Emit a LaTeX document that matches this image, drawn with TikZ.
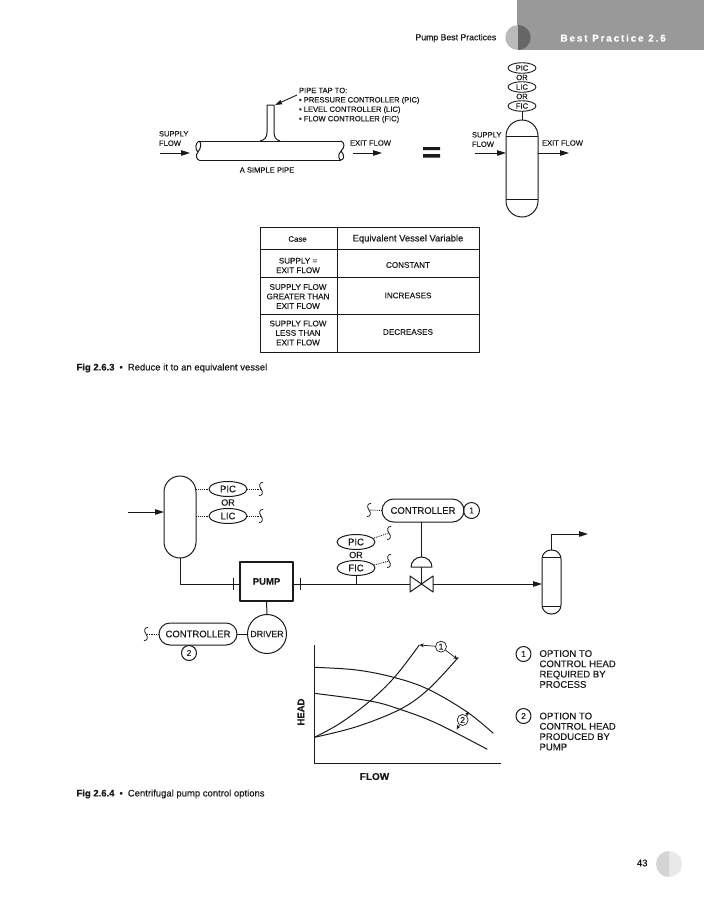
\documentclass[tikz,border=0pt]{standalone}
\usepackage{fontspec}
\setmainfont{Liberation Sans}[FakeBold=0.25]
\usetikzlibrary{arrows.meta,shapes.geometric,shapes.misc,calc}
\definecolor{ink}{HTML}{1A1A1A}
\tikzset{
  base/.style={x=1pt,y=-1pt,line width=1pt,draw=ink,text=ink,line join=round},
  lbl/.style={inner sep=0pt,outer sep=0pt,font=\fontsize{7.6}{9.4}\selectfont,text=ink},
  lbll/.style={lbl,anchor=west,align=left},
  lblc/.style={lbl,align=center},
  cell/.style={inner sep=0pt,outer sep=0pt,align=center,font=\fontsize{8.1}{9.5}\selectfont,text=ink},
  big/.style={inner sep=0pt,outer sep=0pt,font=\fontsize{9}{10.3}\selectfont,text=ink},
  bigl/.style={big,anchor=west,align=left},
  captxt/.style={inner sep=0pt,anchor=west,font=\fontsize{9.5}{11}\selectfont,text=ink},
  oval/.style={draw=ink,ellipse,inner sep=0pt,outer sep=0pt,line width=.9pt,font=\fontsize{7.6}{9}\selectfont},
  ovalB/.style={draw=ink,ellipse,inner sep=0pt,outer sep=0pt,line width=1pt,font=\fontsize{9.5}{11}\selectfont},
  pill/.style={draw=ink,rounded rectangle,inner sep=0pt,outer sep=0pt,line width=1pt,font=\fontsize{9.5}{11}\selectfont},
  num/.style={draw=ink,circle,inner sep=0pt,outer sep=0pt,line width=1pt,minimum size=15pt,font=\fontsize{8.5}{10}\selectfont},
  vessel/.style={draw=ink,inner sep=0pt,outer sep=0pt,line width=1pt},
  flowarrow/.style={-{Triangle[length=9pt,width=5.5pt]},line width=1pt,draw=ink},
  dotline/.style={densely dotted,line width=.9pt,draw=ink},
  pipeline/.style={line width=1pt,draw=ink},
  smallarrow/.style={-{Stealth[length=4.5pt,width=3.8pt]},line width=.7pt,draw=ink},
  squig/.pic={\draw[line width=.8pt,draw=ink] (2,-6.5) .. controls (-1.5,-7) and (-2.5,-3) .. (0,0) .. controls (2.5,3) and (1.5,7) .. (-2,6.5);}
}
\begin{document}
\begin{tikzpicture}[base]
\useasboundingbox (0,0) rectangle (704,900);
% --- page furniture
\fill[fill=black!40] (517,0) rectangle (704,50);
\fill[fill=black!27] (518,25) arc[start angle=-90,end angle=-270,x radius=12.7pt,y radius=-12.5pt] -- cycle;
\fill[fill=black!60] (518,25) arc[start angle=-90,end angle=90,x radius=12.7pt,y radius=-12.5pt] -- cycle;
\node[inner sep=0pt,anchor=west,font=\fontsize{8.7}{10}\selectfont,text=ink] (runhead) at (415,38) {Pump Best Practices};
\node[inner sep=0pt,anchor=west,text=white,font=\fontsize{10}{11}\selectfont\bfseries\addfontfeatures{LetterSpace=18}] (bp) at (560,38) {Best Practice 2.6};
\fill[fill=black!17] (669,851) arc[start angle=-90,end angle=-270,x radius=13pt,y radius=-13pt] -- cycle;
\fill[fill=black!9] (669,851) arc[start angle=-90,end angle=90,x radius=13pt,y radius=-13pt] -- cycle;
\node[inner sep=0pt,anchor=east,font=\fontsize{9.5}{11}\selectfont,text=ink] (pageno) at (648,863) {43};

% --- simple pipe
\draw (199,141) -- (341,141) (199,160) -- (341,160);
\draw (199,141) .. controls (195,143) and (195,150) .. (198,152) .. controls (195,155) and (197,160) .. (199,160);
\draw (199,141) .. controls (202,143) and (201,148) .. (198,152);
\draw (341,141) .. controls (345,143) and (345,147) .. (341,151) .. controls (337,155) and (339,160) .. (341,160) .. controls (344,160) and (345,155) .. (341,151);
\draw (260,141) .. controls (265,140) and (267,137) .. (267,132) -- (267,105) -- (274,105) -- (274,132) .. controls (274,137) and (276,140) .. (280,141);
\coordinate (tap) at (275,105);
\coordinate (tapfrom) at (297,95);
\draw[-{Triangle[length=7pt,width=4.5pt]},line width=.9pt] (tapfrom) -- (tap);
\node[lbll] (taptxt) at (299,105.3) {PIPE TAP TO:\\\textbullet\ PRESSURE CONTROLLER (PIC)\\\textbullet\ LEVEL CONTROLLER (LIC)\\\textbullet\ FLOW CONTROLLER (FIC)};
\node[lbll] (sup1) at (159,138.5) {SUPPLY\\FLOW};
\coordinate (a1) at (160,153); \coordinate (a2) at (190,153);
\draw[flowarrow] (a1) -- (a2);
\node[lbll] (exit1) at (350,143) {EXIT FLOW};
\coordinate (a3) at (353,153); \coordinate (a4) at (382,153);
\draw[flowarrow] (a3) -- (a4);
\node[lblc] (simple) at (267,170) {A SIMPLE PIPE};
\fill[fill=ink] (423,147) rectangle (440,150) (423,154) rectangle (440,157.5);

% --- equivalent vessel
\node[vessel,rounded corners=16pt,minimum width=32pt,minimum height=97pt] (v1) at (522,168.5) {};
\draw (v1.west |- 0,136) -- (v1.east |- 0,136);
\draw (v1.west |- 0,199) -- (v1.east |- 0,199);
\node[oval,minimum width=28pt,minimum height=10.5pt] (tp) at (522,68) {PIC};
\node[lblc] (tor1) at (522,77.5) {OR};
\node[oval,minimum width=28pt,minimum height=10.5pt] (tl) at (522,87) {LIC};
\node[lblc] (tor2) at (522,96.5) {OR};
\node[oval,minimum width=28pt,minimum height=10.5pt] (tf) at (522,106) {FIC};
\draw (tf.south) -- (v1.north);
\node[lbll] (sup2) at (472,139.5) {SUPPLY\\FLOW};
\coordinate (b1) at (475,153); \coordinate (b2) at (539,153); \coordinate (b3) at (569,153);
\draw[flowarrow] (b1) -- (v1.west |- b1);
\draw[flowarrow] (v1.east |- b2) -- (b3);
\node[lbll] (exit2) at (542,143) {EXIT FLOW};

% --- table
\coordinate (t0) at (260,227); \coordinate (t1) at (479,352);
\draw[line width=1pt] (t0) rectangle (t1);
\draw[line width=.8pt] (337,227) -- (337,352);
\draw[line width=.8pt] (260,249) -- (479,249) (260,277) -- (479,277) (260,314) -- (479,314);
\node[cell,font=\fontsize{7.8}{9.5}\selectfont] (th1) at (297.5,239) {Case};
\node[cell,font=\fontsize{9.4}{11}\selectfont] (th2) at (408,239) {Equivalent Vessel Variable};
\node[cell] (r1a) at (298,265.5) {SUPPLY =\\EXIT FLOW};
\node[cell] (r1b) at (408,265) {CONSTANT};
\node[cell] (r2a) at (298,296.5) {SUPPLY FLOW\\GREATER THAN\\EXIT FLOW};
\node[cell] (r2b) at (408,295.5) {INCREASES};
\node[cell] (r3a) at (298,333) {SUPPLY FLOW\\LESS THAN\\EXIT FLOW};
\node[cell] (r3b) at (408,332) {DECREASES};
\node[captxt] (c1) at (76,368) {\textbf{Fig 2.6.3}\hspace{5pt}\textbullet\hspace{5pt}Reduce it to an equivalent vessel};

% --- process diagram
\node[vessel,rounded corners=16pt,minimum width=32pt,minimum height=82pt] (v2) at (180,517) {};
\coordinate (in) at (128,512);
\draw[flowarrow] (in) -- (v2.west |- in);
\node[ovalB,minimum width=38pt,minimum height=15pt] (p1) at (228,489) {PIC};
\node[big,font=\fontsize{9}{10}\selectfont] (or1) at (228,502.5) {OR};
\node[ovalB,minimum width=38pt,minimum height=15pt] (l1) at (228,516) {LIC};
\draw[dotline] (v2.east |- p1) -- (p1.west);
\draw[dotline] (v2.east |- l1) -- (l1.west);
\coordinate (s1) at (261,489); \coordinate (s2) at (261,516);
\draw[dotline] (p1.east) -- (s1); \draw[dotline] (l1.east) -- (s2);
\pic at (s1) {squig}; \pic at (s2) {squig};

\node[draw=ink,line width=1.1pt,minimum width=53pt,minimum height=39pt,inner sep=0pt,outer sep=0pt,font=\fontsize{9.5}{11}\selectfont\bfseries] (pump) at (266.5,581.5) {PUMP};
\coordinate (elb) at (180,584);
\draw[pipeline] (v2.south) -- (elb) -- (pump.west |- elb);
\draw[pipeline] (233,578) -- (233,590) (300,578) -- (300,590);
\node[draw=ink,circle,line width=1pt,minimum size=39pt,inner sep=0pt,outer sep=0pt,font=\fontsize{8.8}{10}\selectfont] (drv) at (267,634) {DRIVER};
\draw[pipeline] (pump.south) -- (drv.north);
\node[pill,minimum width=78pt,minimum height=22pt] (c2) at (198,634) {CONTROLLER};
\draw[pipeline] (c2.east) -- (drv.west);
\node[num] (n2) at (189,653) {2};
\coordinate (s3) at (146,634);
\draw[dotline] (c2.west) -- (s3); \pic at (s3) {squig};

\coordinate (vc) at (421.5,584);
\draw[line width=1pt] (vc) -- (410,576) -- (410,592) -- (433,576) -- (433,592) -- cycle;
\draw[pipeline] (pump.east |- vc) -- (410,584);
\node[ovalB,minimum width=38pt,minimum height=15pt] (p2) at (356,542) {PIC};
\node[big,font=\fontsize{9}{10}\selectfont] (or2) at (356,555) {OR};
\node[ovalB,minimum width=38pt,minimum height=15pt] (f2) at (356,568) {FIC};
\coordinate (ftap) at (356,584);
\draw[pipeline] (f2.south) -- (ftap);
\coordinate (s4) at (389,533); \coordinate (s5) at (389,561);
\draw[dotline] (p2.east) ++(-1,-4) -- (s4);
\draw[dotline] (f2.east) ++(-1,-3) -- (s5);
\pic at (s4) {squig}; \pic at (s5) {squig};

\node[pill,minimum width=82pt,minimum height=23pt] (c1n) at (423,510.5) {CONTROLLER};
\node[num,minimum size=16pt] (n1) at (471.5,510.5) {1};
\coordinate (s6) at (369,510);
\draw[dotline] (c1n.west) -- (s6); \pic at (s6) {squig};
\coordinate (dt) at (421.5,557); \coordinate (db) at (421.5,567);
\draw[line width=1pt] (411,567) arc[start angle=180,end angle=0,x radius=10.5pt,y radius=10pt] -- cycle;
\draw[pipeline] (c1n.south -| dt) -- (dt);
\draw[pipeline] (db) -- (vc);

\node[vessel,rounded corners=9pt,minimum width=19pt,minimum height=64pt] (v3) at (551.5,582) {};
\draw (v3.west |- 0,557) -- (v3.east |- 0,557);
\draw (v3.west |- 0,606) -- (v3.east |- 0,606);
\draw[flowarrow] (433,584) -- (v3.west |- vc);
\coordinate (o1) at (551.5,534); \coordinate (o2) at (588,534);
\draw[flowarrow] (v3.north) -- (o1) -- (o2);

% --- chart
\begin{scope}[shift={(290,630)},x=.3333pt,y=-.3333pt]
\draw[line width=1pt] (73,45) -- (73,402) -- (632,402);
\draw[line width=1pt] plot[smooth,tension=.6] coordinates {(73,112) (200,120) (315,143) (415,178) (530,245) (610,310)};
\draw[line width=1pt] plot[smooth,tension=.6] coordinates {(73,190) (240,213) (330,238) (440,280) (592,358)};
\draw[line width=1pt] plot[smooth,tension=.6] coordinates {(73,322) (150,280) (240,213) (315,140) (388,45)};
\draw[line width=1pt] plot[smooth,tension=.6] coordinates {(73,322) (200,290) (330,238) (415,178) (505,82)};
\node[draw=ink,circle,line width=.7pt,minimum size=11pt,inner sep=0pt,font=\fontsize{8.5}{9}\selectfont] (g1) at (453,50) {1};
\node[draw=ink,circle,line width=.7pt,minimum size=11pt,inner sep=0pt,font=\fontsize{8.5}{9}\selectfont] (g2) at (518,270) {2};
\coordinate (g1a) at (388,45); \coordinate (g1b) at (503,88); \coordinate (g2a) at (537,245); \coordinate (g2b) at (500,298);
\draw[smallarrow] (g1) -- (g1a); \draw[smallarrow] (g1) -- (g1b);
\draw[smallarrow] (g2) -- (g2a); \draw[smallarrow] (g2) -- (g2b);
\end{scope}
\node[big,rotate=90,font=\fontsize{9.5}{10}\selectfont\bfseries] (head) at (301,712) {HEAD};
\node[big,font=\fontsize{10}{11}\selectfont\bfseries] (flowl) at (374.5,776.5) {FLOW};
\node[num,minimum size=15pt] (k1) at (523.5,654) {1};
\node[bigl,font=\fontsize{9.6}{10.3}\selectfont] (k1t) at (539.5,669) {OPTION TO\\CONTROL HEAD\\REQUIRED BY\\PROCESS};
\node[num,minimum size=15pt] (k2) at (523.5,716) {2};
\node[bigl,font=\fontsize{9.6}{10.3}\selectfont] (k2t) at (539.5,731.5) {OPTION TO\\CONTROL HEAD\\PRODUCED BY\\PUMP};
\node[captxt] (c2t) at (76,794) {\textbf{Fig 2.6.4}\hspace{5pt}\textbullet\hspace{5pt}Centrifugal pump control options};
\end{tikzpicture}
\end{document}
